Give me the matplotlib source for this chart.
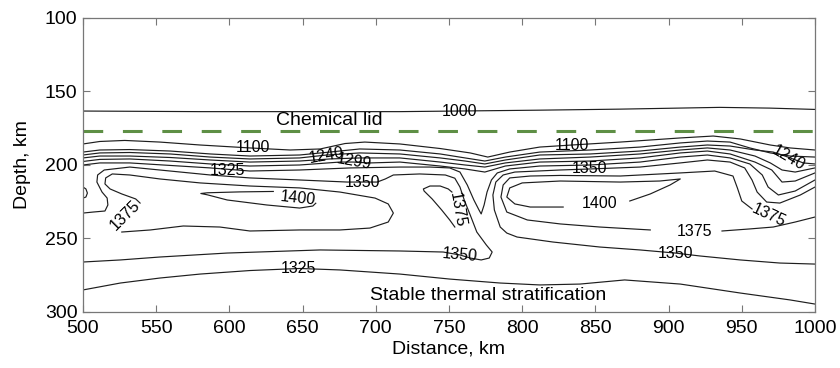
import matplotlib.pyplot as plt

plt.rcParams['font.family'] = ['Liberation Sans', 'DejaVu Sans']

# isotherms, (distance km, depth km)
iso_1000 = [(500, 163.3), (580, 163.7), (716.5, 163.7), (812, 162.7), (867, 162.0),
            (935, 160.8), (969, 161.3), (1000, 162.2)]
iso_1100 = [(500, 185.7), (511.5, 184.0), (528.5, 183.3), (552.5, 184.4), (580, 186.4),
            (614, 188.4), (641.5, 189.8), (662, 189.1), (679, 185.4), (692.5, 184.4),
            (716.5, 185.7), (744, 188.8), (764.5, 191.8), (776.5, 194.6), (791.5, 191.2),
            (812, 187.8), (834, 186.4), (867, 184.4), (908, 181.6), (930.5, 180.3),
            (949, 182.3), (969.5, 186.4), (983, 188.4), (1000, 189.8)]
iso_1200 = [(500, 191.2), (511.5, 189.8), (532, 189.5), (559.5, 190.5), (587, 192.5),
            (614, 193.9), (648, 193.2), (668.5, 191.2), (689, 189.1), (716.5, 189.8),
            (744, 192.5), (761, 195.2), (774.5, 197.3), (788.5, 194.6), (812, 191.2),
            (846.5, 189.8), (880.5, 187.8), (908, 185.0), (926.5, 183.7), (942, 184.4),
            (955.5, 188.4), (969.5, 191.8), (983, 193.9), (1000, 194.6)]
iso_1240 = [(500, 193.2), (511.5, 191.8), (532, 191.5), (559.5, 192.5), (587, 194.6),
            (614, 195.9), (648, 195.2), (666.5, 193.2), (689, 191.8), (716.5, 192.5),
            (744, 195.2), (761, 197.3), (774.5, 199.3), (788.5, 196.6), (812, 193.2),
            (846.5, 192.5), (880.5, 190.5), (908, 187.8), (926.5, 186.4), (942, 187.1),
            (959, 189.8), (971.5, 191.2), (981.5, 194.6), (992, 198.6), (1000, 199.3)]
iso_1275 = [(500, 195.2), (511.5, 193.9), (532, 193.9), (559.5, 194.9), (587, 196.6),
            (614, 198.0), (648, 197.3), (668.5, 195.9), (689, 195.2), (716.5, 195.2),
            (744, 198.0), (761, 200.0), (774.5, 201.4), (788.5, 198.6), (812, 195.9),
            (846.5, 194.6), (880.5, 192.5), (908, 189.8), (926.5, 188.4), (942, 189.8),
            (959, 193.9), (969.5, 198.6), (977.5, 203.4), (986.5, 204.8), (1000, 202.0)]
iso_1299 = [(500, 197.6), (511.5, 196.2), (532, 195.9), (559.5, 197.3), (587, 199.3),
            (614, 200.7), (648, 200.0), (675.5, 198.0), (684.5, 198.0), (696, 198.6),
            (716.5, 198.0), (744, 200.7), (761, 202.7), (774.5, 204.8), (788.5, 200.7),
            (812, 198.0), (846.5, 197.3), (880.5, 195.2), (908, 191.8), (926.5, 190.5),
            (942, 192.5), (959, 198.0), (970.5, 203.4), (974, 207.5), (977.5, 211.6),
            (986.5, 210.9), (1000, 205.4)]
iso_1325 = [(500, 200.0), (511.5, 198.6), (532, 198.6), (559.5, 200.3), (587, 202.0),
            (614, 204.1), (648, 203.4), (682.5, 202.0), (716.5, 201.4), (737, 201.4),
            (750.5, 202.0), (757.5, 204.8), (762.5, 213.6), (767, 223.8), (770.5, 230.6),
            (772, 233.3), (774, 227.2), (776, 218.4), (779, 210.2), (783, 205.4),
            (791.5, 202.7), (812, 200.7), (846.5, 200.0), (880.5, 198.0), (908, 194.6),
            (926.5, 193.2), (942, 195.2), (955.5, 199.3), (964, 206.8), (968, 215.0),
            (975, 220.4), (986.5, 217.7), (1000, 210.2)]
iso_1325_edge = [(500, 215.0), (502, 216.3), (503, 219.1), (502, 221.8), (500, 222.5)]
iso_1325_low = [(500, 285.0), (525.5, 280.3), (552.5, 276.9), (580, 274.2), (614, 271.8),
                (648, 270.4), (675.5, 271.4), (716.5, 274.2), (750.5, 277.6), (785, 280.3),
                (812, 281.6), (839.5, 281.0), (870, 278.2), (908, 281.0), (949, 287.1),
                (983, 291.8), (1000, 294.6)]
iso_1350_left = [(500, 232.7), (507, 232.0), (515, 231.3), (517, 227.2), (516.5, 222.5),
                 (513, 218.4), (509.5, 211.6), (510, 206.8), (514.5, 203.4), (532, 201.4),
                 (559.5, 204.1), (587, 206.8), (614, 208.8), (648, 210.2), (680.5, 211.6),
                 (701, 211.6), (706.5, 209.5), (712, 206.8), (730, 206.1), (747.5, 206.8),
                 (754, 209.0), (757.5, 215.0), (760.5, 224.0), (764.5, 234.0), (769, 245.6),
                 (775.5, 254.4), (779.5, 259.2), (777.5, 263.3), (772, 264.6), (764.5, 263.3),
                 (757.5, 261.2), (746, 259.2), (716.5, 258.5), (662, 257.8), (598.5, 259.9),
                 (552.5, 262.6), (525.5, 264.6), (500, 266.0)]
iso_1350_right = [(1000, 215.0), (990, 220.4), (976, 225.9), (967, 225.2), (960.5, 218.4),
                  (957, 210.2), (952, 202.0), (942, 198.0), (926.5, 196.6), (908, 198.6),
                  (880.5, 201.4), (846.5, 202.7), (826, 203.4), (795, 204.8), (787, 206.8),
                  (782, 211.6), (780, 220.4), (781, 230.6), (785, 242.2), (789.5, 246.3),
                  (796.5, 249.0), (821, 252.4), (853, 255.8), (880.5, 257.8), (904.5, 259.9),
                  (921.5, 261.9), (949, 264.6), (976, 266.7), (1000, 267.4)]
iso_1375_left = [(539, 225.9), (536, 223.1), (526.5, 219.7), (518.5, 216.3), (515, 212.9),
                 (515.5, 208.8), (520, 206.1), (532, 206.8), (552.5, 209.5), (580, 212.2),
                 (614, 214.3), (648, 215.6), (675.5, 218.4), (699.5, 222.5), (708.5, 226.5),
                 (712, 232.7), (708.5, 238.8), (696, 242.9), (675.5, 244.2), (648, 244.2),
                 (614, 244.9), (593.5, 242.2), (568.5, 241.5), (546, 244.2), (526.5, 245.6)]
iso_1375_mid = [(752, 218.4), (749.5, 216.3), (744, 214.3), (737, 214.3), (732.5, 216.3),
                (733, 217.7), (738.5, 223.1), (745, 230.6), (750.5, 237.4), (754, 242.2)]
iso_1375_right_a = [(957, 229.9), (950, 224.5), (947, 215.6), (944, 207.5), (931.5, 204.1),
                    (908, 205.4), (867, 207.5), (826, 207.1), (805.5, 207.5), (791.5, 208.8),
                    (787, 213.6), (785.5, 221.8), (789.5, 232.0), (803.5, 237.4), (826, 240.1),
                    (853, 242.2), (887.5, 244.2)]
iso_1375_right_b = [(936.5, 244.9), (955.5, 243.5), (971.5, 242.2), (986.5, 238.8), (1000, 235.4)]
iso_1400_left = [(630, 218.0), (607, 218.3), (585, 218.9), (580.5, 219.4), (585, 220.3),
                 (598.5, 223.8), (625.5, 227.2), (648, 229.3), (657, 227.9), (659, 226.0)]
iso_1400_right = [(828, 228.6), (805.5, 228.6), (795, 226.5), (789.5, 221.8), (791.5, 215.6),
                  (800, 212.2), (826, 210.9), (867, 211.6), (894, 210.9), (908, 209.5),
                  (901, 213.6), (887.5, 219.7), (873.5, 224.5)]

isotherms = [iso_1000, iso_1100, iso_1200, iso_1240, iso_1275, iso_1299, iso_1325,
             iso_1325_edge, iso_1325_low, iso_1350_left, iso_1350_right, iso_1375_left,
             iso_1375_mid, iso_1375_right_a, iso_1375_right_b, iso_1400_left, iso_1400_right]

# contour labels: text, distance, depth, rotation
labels = [("1000", 757.5, 163.3, 0), ("1100", 615.8, 188.1, 0), ("1100", 834, 186.4, 0),
          ("1240", 666.5, 193.2, 10), ("1299", 684.8, 197.5, -10), ("1325", 598.5, 203.5, 0),
          ("1350", 690.6, 211.6, 0), ("1350", 846.3, 202.7, 0), ("1240", 981.6, 195.0, -30),
          ("1400", 647, 222.5, -6), ("1375", 528.7, 234.0, 45), ("1375", 755.8, 230.6, -80),
          ("1400", 853.2, 226.5, 0), ("1375", 918, 245.0, 0), ("1375", 968.6, 234.0, -25),
          ("1350", 757.5, 261.2, -5), ("1350", 904.4, 259.9, 0), ("1325", 647, 270.1, 0)]

lid_depth = 176.7
xticks = [500, 550, 600, 650, 700, 750, 800, 850, 900, 950, 1000]
yticks = [100, 150, 200, 250, 300]

fig = plt.figure(figsize=(8.4, 3.68), dpi=100)
ax = fig.add_axes([0.0988, 0.1522, 0.8714, 0.7989])

for iso in isotherms:
    xs = [p[0] for p in iso]
    ds = [p[1] for p in iso]
    ax.plot(xs, ds, color='#1e1e1e', lw=0.85, solid_joinstyle='round')

for txt, x, d, rot in labels:
    ax.text(x, d, txt, fontsize=11.5, ha='center', va='center', rotation=rot)

ax.axhline(lid_depth, color='#5e8f45', lw=2.2, dashes=(6.45, 6.45))

ax.text(668, 169.5, "Chemical lid", fontsize=14, ha='center', va='center')
ax.text(777, 288.5, "Stable thermal stratification", fontsize=14, ha='center', va='center')

ax.set_xlim(500, 1000)
ax.set_ylim(300, 100)
ax.set_xticks(xticks)
ax.set_yticks(yticks)
ax.set_xlabel("Distance, km", fontsize=14, labelpad=2)
ax.set_ylabel("Depth, km", fontsize=14, labelpad=10)

for s in ax.spines.values():
    s.set_color('#777777')
    s.set_linewidth(0.9)
ax.tick_params(direction='in', top=True, right=True, length=5, width=0.8,
               color='#777777', labelsize=14, pad=4)
ax.tick_params(axis='x', pad=6)

fig.savefig('out.png', dpi=100)
